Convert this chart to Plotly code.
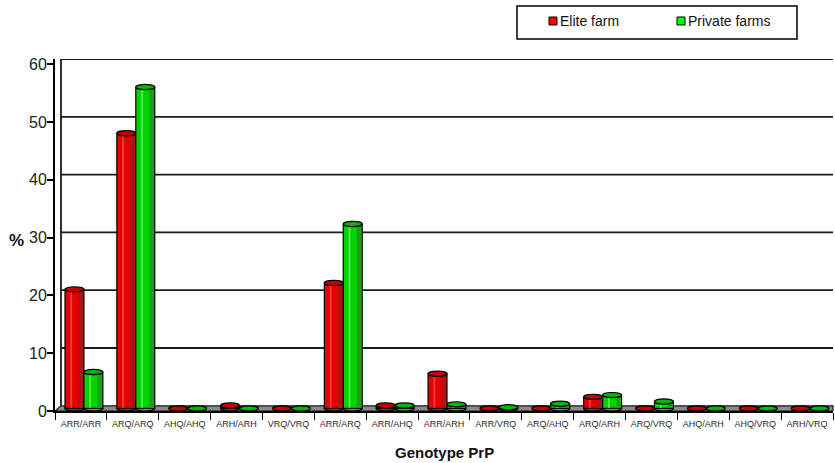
import plotly.graph_objects as go

# PrP genotype frequencies (%) in the two flocks
genotypes = ["ARR/ARR", "ARQ/ARQ", "AHQ/AHQ", "ARH/ARH", "VRQ/VRQ", "ARR/ARQ", "ARR/AHQ",
             "ARR/ARH", "ARR/VRQ", "ARQ/AHQ", "ARQ/ARH", "ARQ/VRQ", "AHQ/ARH", "AHQ/VRQ", "ARH/VRQ"]
elite_farm = [20.6, 47.6, 0, 0.5, 0, 21.7, 0.5, 6.0, 0, 0, 2.0, 0, 0, 0, 0]
private_farms = [6.3, 55.6, 0, 0, 0, 31.9, 0.5, 0.7, 0.2, 0.8, 2.3, 1.2, 0, 0, 0]
y_ticks = [0, 10, 20, 30, 40, 50, 60]

FONT = "Liberation Sans, Arial, sans-serif"
W_PX, H_PX = 835, 463
M_L, M_R, M_T, M_B = 55, 2, 59, 52
Y_MAX = 60.9
DEPTH = 0.9          # depth of the pseudo-3D floor, in y units
BASE = DEPTH / 2     # cylinders stand in the middle of the floor
WALL_DX = 6          # back-wall offset, in px
BARGAP = 0.27
BW = (1 - BARGAP) / 2  # width of one bar in category units

plot_w = W_PX - M_L - M_R
plot_h = H_PX - M_T - M_B
SHIFT = (WALL_DX / 2) / (plot_w / len(genotypes))  # half the wall offset, in category units


def px_x(px):
    return (px - M_L) / plot_w


def px_y(py):
    return (H_PX - M_B - py) / plot_h


series = [
    ("Elite farm", elite_farm,
     dict(body="#E60000", shade="#A51818", light="#FF6A6A", top="#C40000", key="#FF0000"), -1),
    ("Private farms", private_farms,
     dict(body="#00D400", shade="#229A22", light="#8CFF8C", top="#00B800", key="#00FF00"), 1),
]

fig = go.Figure()
shapes = []

# back wall gridlines and floor
wall_x0 = px_x(M_L + WALL_DX)
for t in y_ticks[1:]:
    shapes.append(dict(type="line", xref="paper", yref="y", x0=wall_x0, x1=1,
                       y0=t + DEPTH, y1=t + DEPTH, line=dict(color="#1a1a1a", width=1.8),
                       layer="below"))
shapes.append(dict(type="path", xref="paper", yref="y",
                   path=f"M 0 0 L 1 0 L 1 {DEPTH} L {wall_x0} {DEPTH} Z",
                   fillcolor="#8a8a8a", line=dict(color="#1a1a1a", width=1.2), layer="below"))
shapes.append(dict(type="line", xref="paper", yref="y", x0=wall_x0, x1=wall_x0,
                   y0=DEPTH, y1=y_ticks[-1] + DEPTH, line=dict(color="#1a1a1a", width=1.8),
                   layer="below"))

for name, vals, c, side in series:
    offset = (-BW if side < 0 else 0) + SHIFT
    fig.add_trace(go.Bar(
        x=genotypes, y=vals, base=BASE, name=name, showlegend=False,
        width=BW, offset=offset,
        marker=dict(color=c["body"], line=dict(color="black", width=1.2)),
    ))
    for i, v in enumerate(vals):
        xc = i + offset + BW / 2
        top = BASE + v
        if v > 0:
            # rounded bottom of the cylinder
            shapes.append(dict(type="circle", xref="x", yref="y",
                               x0=xc - BW / 2, x1=xc + BW / 2, y0=BASE - 0.45, y1=BASE + 0.45,
                               fillcolor=c["body"], line=dict(color="black", width=1.2),
                               layer="below"))
            # cylinder shading: dark right flank and a light highlight stripe
            shapes.append(dict(type="rect", xref="x", yref="y",
                               x0=xc + 0.22 * BW, x1=xc + 0.5 * BW - 0.02, y0=BASE + 0.05, y1=top,
                               fillcolor=c["shade"], line_width=0, layer="above"))
            shapes.append(dict(type="rect", xref="x", yref="y",
                               x0=xc - 0.22 * BW, x1=xc - 0.12 * BW, y0=BASE + 0.05, y1=top,
                               fillcolor=c["light"], opacity=0.55, line_width=0, layer="above"))
        shapes.append(dict(type="circle", xref="x", yref="y",
                           x0=xc - BW / 2, x1=xc + BW / 2, y0=top - 0.45, y1=top + 0.45,
                           fillcolor=c["top"], line=dict(color="black", width=1.2),
                           layer="above"))

# legend box drawn in pixel-derived paper coordinates
shapes.append(dict(type="rect", xref="paper", yref="paper",
                   x0=px_x(517), x1=px_x(797), y0=px_y(39), y1=px_y(6),
                   line=dict(color="black", width=1.5), fillcolor="white"))
annotations = []
for (name, _, c, _), kx in zip(series, (549, 677)):
    shapes.append(dict(type="rect", xref="paper", yref="paper",
                       x0=px_x(kx), x1=px_x(kx + 8), y0=px_y(25), y1=px_y(17),
                       fillcolor=c["key"], line=dict(color="black", width=1)))
    annotations.append(dict(xref="paper", yref="paper", x=px_x(kx + 9), y=px_y(21),
                            text=name, showarrow=False, xanchor="left", yanchor="middle",
                            font=dict(family=FONT, size=14, color="#111")))

annotations.append(dict(xref="paper", yref="paper", x=px_x(16), y=px_y(240), text="<b>%</b>",
                        showarrow=False, xanchor="center", yanchor="middle",
                        font=dict(family=FONT, size=17, color="#111")))
annotations.append(dict(xref="paper", yref="paper", x=px_x(445), y=px_y(452),
                        text="<b>Genotype PrP</b>", showarrow=False, xanchor="center",
                        yanchor="middle", font=dict(family=FONT, size=15, color="#111")))

fig.update_layout(
    width=W_PX, height=H_PX,
    margin=dict(l=M_L, r=M_R, t=M_T, b=M_B),
    paper_bgcolor="white", plot_bgcolor="white",
    barmode="group", bargap=BARGAP, bargroupgap=0,
    shapes=shapes, annotations=annotations,
    showlegend=False,
    xaxis=dict(type="category", categoryorder="array", categoryarray=genotypes,
               showline=True, linecolor="black", linewidth=1.5, showgrid=False,
               ticks="outside", tickson="boundaries", ticklen=7, tickcolor="black",
               tickwidth=1.2, ticklabelstandoff=3,
               tickfont=dict(family=FONT, size=9, color="#2a2a2a"),
               range=[-0.5, len(genotypes) - 0.5], fixedrange=True),
    yaxis=dict(range=[0, Y_MAX], tickvals=y_ticks, showgrid=False, zeroline=False,
               showline=True, linecolor="black", linewidth=1.8,
               ticks="outside", ticklen=6, tickcolor="black", tickwidth=1.5,
               ticklabelstandoff=-3,
               tickfont=dict(family=FONT, size=16, color="#222"), fixedrange=True),
)

fig.write_html("out.html")
